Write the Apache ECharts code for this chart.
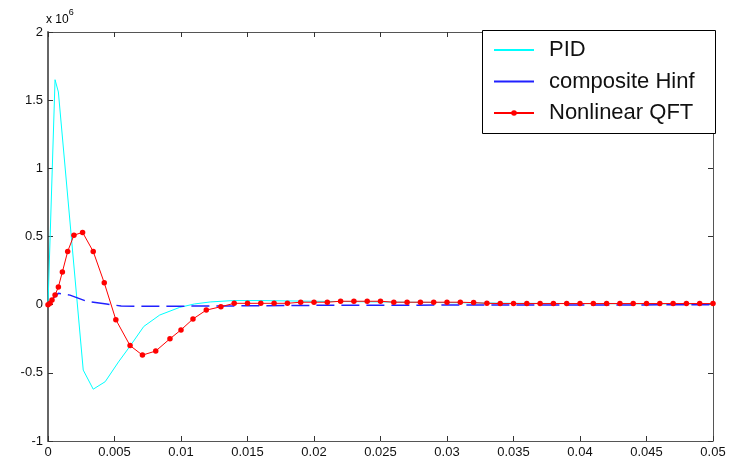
<!DOCTYPE html>
<html lang="en">
<head>
    <meta charset="UTF-8">
    <title>Control comparison</title>
    <script src="https://cdn.jsdelivr.net/npm/echarts@6/dist/echarts.min.js"></script>
    <style>
        body { margin: 0; background: #fff; }
        #main { width: 729px; height: 461px; }
    </style>
</head>
<body>
    <div id="main"></div>
    <script>
        // values are in units of 1e6 (as on the axis)
        var pidTime = [0, 0.00053, 0.00078, 0.00265, 0.0034, 0.0043, 0.0053, 0.0062, 0.0072, 0.0084, 0.0099, 0.011, 0.0122, 0.0139, 0.016, 0.02, 0.025, 0.03, 0.035, 0.04, 0.045, 0.05];
        var pidVals = [0, 1.65, 1.56, -0.48, -0.62, -0.565, -0.42, -0.30, -0.16, -0.076, -0.02, 0.005, 0.02, 0.03, 0.03, 0.025, 0.02, 0.015, 0.01, 0.008, 0.006, 0.005];

        var hinfTime = [0, 0.0003, 0.00078, 0.00165, 0.0029, 0.0044, 0.0055, 0.008, 0.012, 0.016, 0.02, 0.03, 0.04, 0.05];
        var hinfVals = [0, 0.04, 0.083, 0.07, 0.025, 0.005, -0.01, -0.012, -0.01, -0.008, -0.005, -0.003, -0.002, -0.001];

        var qftTime = [0, 0.00015, 0.0003, 0.00053, 0.00078, 0.00108, 0.00148, 0.00195, 0.0026, 0.0034, 0.00423, 0.0051, 0.00617, 0.0071, 0.0081, 0.00917, 0.01, 0.0109, 0.0119,
            0.013, 0.014, 0.015, 0.016, 0.017, 0.018, 0.019, 0.02, 0.021, 0.022, 0.023, 0.024, 0.025, 0.026, 0.027, 0.028, 0.029, 0.03, 0.031, 0.032,
            0.033, 0.034, 0.035, 0.036, 0.037, 0.038, 0.039, 0.04, 0.041, 0.042, 0.043, 0.044, 0.045, 0.046, 0.047, 0.048, 0.049, 0.05];
        var qftVals = [0, 0.01, 0.035, 0.07, 0.13, 0.24, 0.39, 0.51, 0.53, 0.39, 0.16, -0.11, -0.30, -0.37, -0.34, -0.25, -0.185, -0.105, -0.04,
            -0.015, 0.01, 0.01, 0.01, 0.01, 0.01, 0.018, 0.018, 0.018, 0.025, 0.025, 0.025, 0.025, 0.018, 0.018, 0.018, 0.018, 0.018, 0.018, 0.015,
            0.01, 0.008, 0.008, 0.008, 0.008, 0.008, 0.008, 0.008, 0.008, 0.008, 0.008, 0.008, 0.008, 0.008, 0.008, 0.008, 0.008, 0.008];

        var names = ['PID', 'composite Hinf', 'Nonlinear QFT'];

        function pairs(t, v) {
            var out = [];
            for (var i = 0; i < t.length; i++) out.push([t[i], v[i]]);
            return out;
        }

        var font = 'Liberation Sans';
        var axisCol = '#555';

        var myChart = echarts.init(document.getElementById('main'));

        var xBase = {
            type: 'value', min: 0, max: 0.05, interval: 0.005,
            axisLine: { show: true, onZero: false, lineStyle: { color: axisCol, width: 1 } },
            axisTick: { show: true, inside: true, length: 5, lineStyle: { color: '#333' } },
            splitLine: { show: false }
        };
        var yBase = {
            type: 'value', min: -1, max: 2, interval: 0.5,
            axisLine: { show: true, onZero: false, lineStyle: { color: axisCol, width: 1 } },
            axisTick: { show: true, inside: true, length: 5, lineStyle: { color: '#333' } },
            splitLine: { show: false }
        };

        var option = {
            backgroundColor: '#fff',
            animation: false,
            grid: { left: 48, right: 16, top: 32, bottom: 20 },
            xAxis: [
                Object.assign({}, xBase, {
                    position: 'bottom',
                    axisLabel: { color: '#111', fontFamily: font, fontSize: 13, margin: 5, showMaxLabel: true }
                }),
                Object.assign({}, xBase, { position: 'top', axisLabel: { show: false } })
            ],
            yAxis: [
                Object.assign({}, yBase, {
                    position: 'left',
                    axisLine: { show: true, onZero: false, lineStyle: { color: '#666', width: 2 } },
                    axisLabel: { color: '#111', fontFamily: font, fontSize: 13, margin: 5 }
                }),
                Object.assign({}, yBase, { position: 'right', axisLabel: { show: false } })
            ],
            legend: {
                orient: 'vertical',
                left: 493,
                top: 38,
                padding: 0,
                itemWidth: 40,
                itemHeight: 7,
                itemGap: 7.5,
                z: 20,
                textStyle: { fontFamily: font, fontSize: 22, lineHeight: 24, color: '#111', padding: [0, 0, 0, 10] },
                data: [
                    { name: names[0], itemStyle: { opacity: 0 } },
                    { name: names[1], itemStyle: { opacity: 0 }, lineStyle: { type: 'solid', width: 2 } },
                    { name: names[2] }
                ]
            },
            graphic: [
                {
                    type: 'rect', z: 10, zlevel: 0,
                    shape: { x: 482.5, y: 30.5, width: 233, height: 103 },
                    style: { fill: '#fff', stroke: '#000', lineWidth: 1 }
                },
                {
                    type: 'text', left: 46, top: 8,
                    style: {
                        text: '{a|x 10}{b|6}',
                        rich: {
                            a: { fontFamily: font, fontSize: 12, color: '#111', lineHeight: 18, verticalAlign: 'bottom' },
                            b: { fontFamily: font, fontSize: 9, color: '#111', verticalAlign: 'top' }
                        }
                    }
                }
            ],
            series: [
                {
                    name: names[0], type: 'line', data: pairs(pidTime, pidVals),
                    symbol: 'none', lineStyle: { color: '#00ffff', width: 1 }, itemStyle: { color: '#00ffff' }
                },
                {
                    name: names[1], type: 'line', data: pairs(hinfTime, hinfVals),
                    symbol: 'none', lineStyle: { color: '#2020ff', width: 1.5, type: [18, 7] }, itemStyle: { color: '#2020ff' }
                },
                {
                    name: names[2], type: 'line', data: pairs(qftTime, qftVals),
                    symbol: 'circle', symbolSize: 5.5, showSymbol: true,
                    lineStyle: { color: '#ff0000', width: 1 }, itemStyle: { color: '#ff0000' }
                }
            ]
        };

        myChart.setOption(option);
    </script>
</body>
</html>
